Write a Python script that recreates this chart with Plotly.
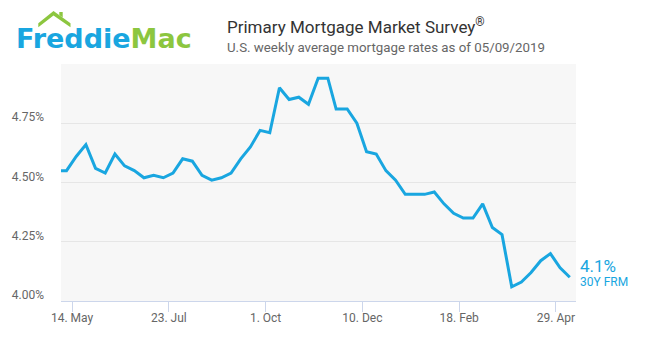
import plotly.graph_objects as go

dates = [
    "2018-05-03", "2018-05-10", "2018-05-17", "2018-05-24", "2018-05-31",
    "2018-06-07", "2018-06-14", "2018-06-21", "2018-06-28", "2018-07-05",
    "2018-07-12", "2018-07-19", "2018-07-26", "2018-08-02", "2018-08-09",
    "2018-08-16", "2018-08-23", "2018-08-30", "2018-09-06", "2018-09-13",
    "2018-09-20", "2018-09-27", "2018-10-04", "2018-10-11", "2018-10-18",
    "2018-10-25", "2018-11-01", "2018-11-08", "2018-11-15", "2018-11-21",
    "2018-11-29", "2018-12-06", "2018-12-13", "2018-12-20", "2018-12-27",
    "2019-01-03", "2019-01-10", "2019-01-17", "2019-01-24", "2019-01-31",
    "2019-02-07", "2019-02-14", "2019-02-21", "2019-02-28", "2019-03-07",
    "2019-03-14", "2019-03-21", "2019-03-28", "2019-04-04", "2019-04-11",
    "2019-04-18", "2019-04-25", "2019-05-02", "2019-05-09",
]
rate_30y = [
    4.55, 4.55, 4.61, 4.66, 4.56,
    4.54, 4.62, 4.57, 4.55, 4.52,
    4.53, 4.52, 4.54, 4.60, 4.59,
    4.53, 4.51, 4.52, 4.54, 4.60,
    4.65, 4.72, 4.71, 4.90, 4.85,
    4.86, 4.83, 4.94, 4.94, 4.81,
    4.81, 4.75, 4.63, 4.62, 4.55,
    4.51, 4.45, 4.45, 4.45, 4.46,
    4.41, 4.37, 4.35, 4.35, 4.41,
    4.31, 4.28, 4.06, 4.08, 4.12,
    4.17, 4.20, 4.14, 4.10,
]
series_name = "30Y FRM"
x_tick_vals = ["2018-05-14", "2018-07-23", "2018-10-01", "2018-12-10", "2019-02-18", "2019-04-29"]
x_tick_text = ["14. May", "23. Jul", "1. Oct", "10. Dec", "18. Feb", "29. Apr"]
y_tick_vals = [4.0, 4.25, 4.5, 4.75, 5.0]
y_tick_text = ["4.00%", "4.25%", "4.50%", "4.75%", ""]

W, H = 646, 340
L, R, T, B = 61, 576, 64, 301
BLUE = "#19a6e0"
GREEN = "#8cc63f"
FONT = "Roboto"


def px(x):
    return (x - L) / (R - L)


def py(y):
    return (B - y) / (B - T)


fig = go.Figure()
fig.add_trace(go.Scatter(
    x=dates, y=rate_30y, mode="lines", name=series_name,
    line=dict(color=BLUE, width=3), hoverinfo="x+y",
))

fig.update_layout(
    width=W, height=H,
    margin=dict(l=L, r=W - R, t=T, b=H - B, pad=0),
    paper_bgcolor="white", plot_bgcolor="#f7f7f7",
    showlegend=False,
    font=dict(family=FONT, color="#666666", size=12),
    xaxis=dict(
        range=["2018-05-06", "2019-05-13 12:00"],
        tickvals=x_tick_vals, ticktext=x_tick_text,
        showgrid=False, zeroline=False,
        showline=True, linecolor="#ccd6eb", linewidth=1,
        ticks="outside", ticklen=10, tickcolor="#ccd6eb", tickwidth=1,
        ticklabelstandoff=-4,
        tickfont=dict(size=12, color="#666666", family=FONT),
    ),
    yaxis=dict(
        range=[4.0, 5.0],
        tickvals=y_tick_vals, ticktext=y_tick_text,
        showgrid=True, gridcolor="#e6e6e6", gridwidth=1,
        zeroline=False, showline=False,
        ticks="", ticklabelstandoff=16, ticklabelshift=-6,
        tickfont=dict(size=12, color="#666666", family=FONT),
    ),
)

# Logo roof (decorative)
roof = [(38.3, 23.3), (53.5, 11), (70.5, 23.3), (70.5, 27.3), (53.5, 15.6), (38.3, 27.3)]
path = "M " + " L ".join(f"{px(a):.5f},{py(b):.5f}" for a, b in roof) + " Z"
fig.add_shape(type="path", xref="paper", yref="paper", path=path,
              fillcolor=GREEN, line=dict(width=0))
chim = [(59.3, 12), (62.7, 12), (62.7, 17.5), (59.3, 15)]
path2 = "M " + " L ".join(f"{px(a):.5f},{py(b):.5f}" for a, b in chim) + " Z"
fig.add_shape(type="path", xref="paper", yref="paper", path=path2,
              fillcolor=GREEN, line=dict(width=0))

fig.add_annotation(
    xref="paper", yref="paper", x=px(14), y=py(39), xanchor="left", yanchor="middle",
    text=f"<span style='color:{BLUE}'>Freddie</span><span style='color:{GREEN}'>Mac</span>",
    showarrow=False, font=dict(family="DejaVu Sans", size=27, weight="bold"),
)
fig.add_annotation(
    xref="paper", yref="paper", x=px(225), y=py(26), xanchor="left", yanchor="middle",
    text="Primary Mortgage Market Survey<sup>®</sup>",
    showarrow=False, font=dict(family=FONT, size=17, color="#333333"),
)
fig.add_annotation(
    xref="paper", yref="paper", x=px(225), y=py(48), xanchor="left", yanchor="middle",
    text="U.S. weekly average mortgage rates as of 05/09/2019",
    showarrow=False, font=dict(family=FONT, size=13.3, color="#666666"),
)
fig.add_annotation(
    x=dates[-1], y=rate_30y[-1], xanchor="left", yanchor="middle",
    xshift=8, yshift=11, text=f"{rate_30y[-1]:.1f}%",
    showarrow=False, font=dict(family=FONT, size=17, color=BLUE),
)
fig.add_annotation(
    x=dates[-1], y=rate_30y[-1], xanchor="left", yanchor="middle",
    xshift=8, yshift=-5, text=series_name,
    showarrow=False, font=dict(family=FONT, size=12, color=BLUE),
)

fig.write_html("out.html")
